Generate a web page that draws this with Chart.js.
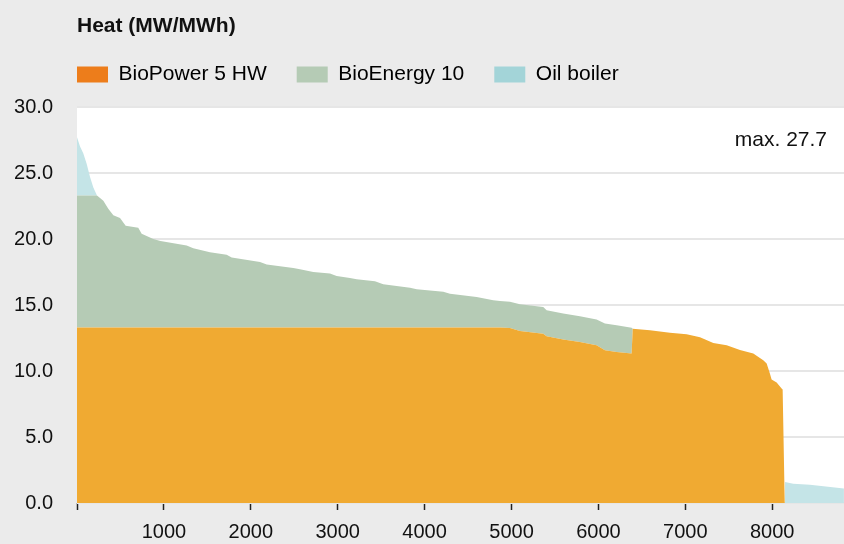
<!DOCTYPE html>
<html>
<head>
<meta charset="utf-8">
<script src="https://cdn.jsdelivr.net/npm/chart.js@4/dist/chart.umd.min.js"></script>
<style>
  html, body { margin: 0; padding: 0; background: #ebebeb; }
  #wrap { width: 844px; height: 544px; }
</style>
</head>
<body>
<div id="wrap"><canvas id="c" width="844" height="544"></canvas></div>
<script>
// ---- data (hours of the year, MW) ----
const chartTitle = 'Heat (MW/MWh)';
const seriesNames = ['BioPower 5 HW', 'BioEnergy 10', 'Oil boiler'];

const hours = [0, 35, 72, 111, 150, 188, 230, 303, 360, 418, 495, 560, 705, 744, 878, 960, 1262, 1338, 1530, 1722,
  1780, 2106, 2183, 2489, 2566, 2719, 2911, 2988, 3141, 3218, 3429, 3524, 3832, 3909, 4215, 4292, 4599, 4790, 4867, 4982,
  5097, 5365, 5404, 5595, 5787, 5979, 6075, 6210, 6382, 6395, 6593, 6823, 7015, 7169, 7322, 7476, 7629, 7782, 7897, 7936,
  7974, 7993, 8051, 8108, 8120, 8144, 8148, 8242, 8434, 8825];

const bioPower = [13.3, 13.3, 13.3, 13.3, 13.3, 13.3, 13.3, 13.3, 13.3, 13.3, 13.3, 13.3, 13.3, 13.3, 13.3, 13.3, 13.3, 13.3, 13.3, 13.3,
  13.3, 13.3, 13.3, 13.3, 13.3, 13.3, 13.3, 13.3, 13.3, 13.3, 13.3, 13.3, 13.3, 13.3, 13.3, 13.3, 13.3, 13.3, 13.3, 13.25,
  13.03, 12.83, 12.63, 12.38, 12.2, 11.95, 11.57, 11.44, 11.32, 13.2, 13.08, 12.9, 12.78, 12.55, 12.12, 11.95, 11.6, 11.32, 10.81, 10.56,
  9.8, 9.35, 9.12, 8.67, 8.6, 0, 0, 0, 0, 0];

const bioEnergy = [10.0, 10.0, 10.0, 10.0, 10.0, 10.0, 10.0, 9.6, 9.0, 8.5, 8.3, 7.7, 7.55, 7.1, 6.7, 6.55, 6.2, 6.0, 5.7, 5.5,
  5.3, 4.96, 4.76, 4.5, 4.4, 4.2, 4.08, 3.9, 3.75, 3.65, 3.5, 3.27, 3.0, 2.9, 2.7, 2.56, 2.3, 2.06, 2.0, 2.0,
  2.02, 2.02, 1.97, 1.97, 1.94, 1.95, 2.03, 2.02, 1.96, 0, 0, 0, 0, 0, 0, 0, 0, 0, 0, 0,
  0, 0, 0, 0, 0, 0, 0, 0, 0, 0];

const oilBoiler = [4.4, 3.7, 3.2, 2.4, 1.4, 0.6, 0, 0, 0, 0, 0, 0, 0, 0, 0, 0, 0, 0, 0, 0,
  0, 0, 0, 0, 0, 0, 0, 0, 0, 0, 0, 0, 0, 0, 0, 0, 0, 0, 0, 0,
  0, 0, 0, 0, 0, 0, 0, 0, 0, 0, 0, 0, 0, 0, 0, 0, 0, 0, 0, 0,
  0, 0, 0, 0, 0, 0, 1.59, 1.45, 1.39, 1.1];

const xTicks = [0, 1000, 2000, 3000, 4000, 5000, 6000, 7000, 8000];
const yTicks = [0, 5, 10, 15, 20, 25, 30];
const xMax = 8826;
const maxLabelValue = 27.7;

// ---- styling ----
const areaColors = ['#f0aa32', '#b5cbb5', '#c4e4e7'];
const legendColors = ['#ed7d1b', '#b5cbb5', '#a3d4d8'];
const FONT = '"Liberation Sans", Arial, Helvetica, sans-serif';
const TEXT = '#111111';
const LEGEND_PAD = 30;

Chart.defaults.font.family = FONT;
Chart.defaults.color = TEXT;

const toPts = arr => hours.map((h, i) => ({ x: h, y: arr[i] }));

const bgPlugin = {
  id: 'plotBg',
  beforeDraw(chart) {
    const { ctx, chartArea: a } = chart;
    ctx.save();
    ctx.fillStyle = '#ffffff';
    ctx.fillRect(a.left, a.top, a.right - a.left, a.bottom - a.top);
    ctx.restore();
  }
};

const alignPlugin = {
  id: 'alignHeader',
  afterLayout(chart) {
    const left = chart.chartArea.left;
    if (chart.titleBlock) { chart.titleBlock.left = left; }
    if (chart.legend) {
      chart.legend.left = left - LEGEND_PAD;
      chart.legend.right = chart.width;
    }
  }
};

const maxLabelPlugin = {
  id: 'maxLabel',
  afterDatasetsDraw(chart) {
    const { ctx, chartArea: a, scales } = chart;
    ctx.save();
    ctx.font = '21px ' + FONT;
    ctx.fillStyle = TEXT;
    ctx.textAlign = 'right';
    ctx.textBaseline = 'middle';
    ctx.fillText('max. ' + maxLabelValue.toFixed(1), a.right - 17, scales.y.getPixelForValue(maxLabelValue) + 3);
    ctx.restore();
  }
};

new Chart(document.getElementById('c'), {
  type: 'line',
  data: {
    datasets: [
      { label: seriesNames[0], data: toPts(bioPower), backgroundColor: areaColors[0], fill: 'origin' },
      { label: seriesNames[1], data: toPts(bioEnergy), backgroundColor: areaColors[1], fill: '-1' },
      { label: seriesNames[2], data: toPts(oilBoiler), backgroundColor: areaColors[2], fill: '-1' }
    ]
  },
  options: {
    responsive: false,
    animation: false,
    events: [],
    layout: { padding: { left: 0, right: 0, top: 0, bottom: 0 } },
    elements: {
      line: { borderWidth: 0, tension: 0 },
      point: { radius: 0 }
    },
    scales: {
      x: {
        type: 'linear',
        min: 0,
        max: xMax,
        afterBuildTicks(scale) { scale.ticks = xTicks.map(v => ({ value: v })); },
        afterFit(scale) { scale.height = 41; },
        grid: { drawOnChartArea: false, drawTicks: true, tickLength: 7, tickColor: '#222222', tickWidth: 1.5, color: '#222222' },
        border: { display: false },
        ticks: {
          padding: 10,
          font: { size: 20 },
          color: TEXT,
          maxRotation: 0,
          autoSkip: false,
          callback: v => (v === 0 ? '' : String(v))
        }
      },
      y: {
        stacked: true,
        min: 0,
        max: 30,
        afterBuildTicks(scale) { scale.ticks = yTicks.map(v => ({ value: v })); },
        afterFit(scale) { scale.width = 77; },
        grid: { drawTicks: false, color: '#e6e6e6', lineWidth: 2 },
        border: { display: false },
        ticks: {
          padding: 24,
          font: { size: 20 },
          color: TEXT,
          callback: v => Number(v).toFixed(1)
        }
      }
    },
    plugins: {
      tooltip: { enabled: false },
      title: {
        display: true,
        text: chartTitle,
        align: 'start',
        color: TEXT,
        font: { size: 21, weight: 'bold', lineHeight: 1 },
        padding: { top: 16, bottom: -3 }
      },
      subtitle: {
        display: true,
        text: ' ',
        weight: 500,
        font: { size: 1, lineHeight: 1 },
        padding: { top: 0, bottom: 11 }
      },
      legend: {
        display: true,
        position: 'top',
        align: 'start',
        labels: {
          boxWidth: 31,
          boxHeight: 16,
          padding: LEGEND_PAD,
          color: TEXT,
          font: { size: 21 },
          generateLabels: chart => chart.data.datasets.map((d, i) => ({
            text: d.label,
            fillStyle: legendColors[i],
            strokeStyle: legendColors[i],
            lineWidth: 0,
            hidden: false,
            datasetIndex: i
          }))
        }
      }
    }
  },
  plugins: [bgPlugin, alignPlugin, maxLabelPlugin]
});
</script>
</body>
</html>
